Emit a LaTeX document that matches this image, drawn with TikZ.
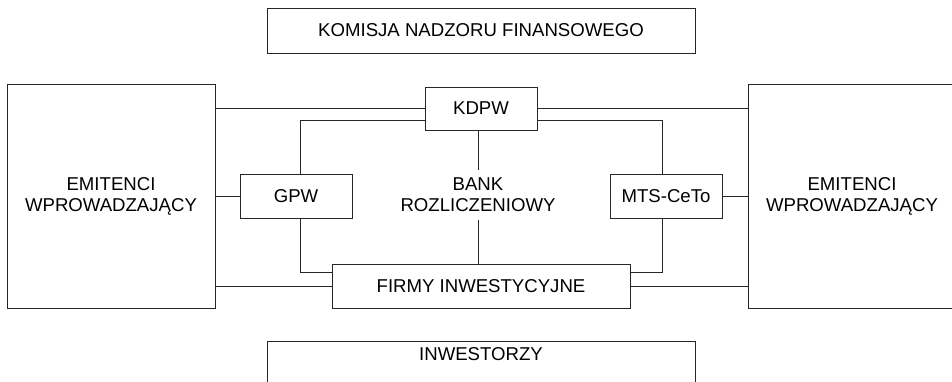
\documentclass[tikz,border=0pt]{standalone}
\usepackage{fontspec}
\setmainfont{Liberation Sans}
\begin{document}
\begin{tikzpicture}[x=1pt,y=-1pt,
  box/.style={draw=black!85,line width=0.9pt,rectangle,inner sep=0pt,align=center},
  conn/.style={draw=black!85,line width=0.9pt},
  font=\fontsize{18.6}{21}\selectfont]
\useasboundingbox (0,0) rectangle (952,381);
\clip (0,0) rectangle (952,381);
\node[box,minimum width=428,minimum height=45] (knf) at (481,30.5) {KOMISJA NADZORU FINANSOWEGO};
\node[box,minimum width=208,minimum height=224] (ewl) at (111,196) {EMITENCI\\WPROWADZAJĄCY};
\node[box,minimum width=208,minimum height=224] (ewr) at (852,196) {EMITENCI\\WPROWADZAJĄCY};
\node[box,minimum width=112,minimum height=43] (kdpw) at (481,108.5) {KDPW};
\node[box,minimum width=112,minimum height=44] (gpw) at (296,196) {GPW};
\node[box,minimum width=112,minimum height=44] (mts) at (666,196) {MTS-CeTo};
\node[box,minimum width=298,minimum height=44] (firmy) at (481,286) {FIRMY INWESTYCYJNE};
\node[align=center,inner sep=0pt,minimum height=50] (bank) at (478,195) {BANK\\ROZLICZENIOWY};
\node[box,minimum width=428,minimum height=70] (inw) at (481,376) {};
\node[inner sep=0pt] (inwt) at (481,354) {INWESTORZY};
% connectors
\draw[conn] (kdpw.west -| ewl.east) -- (kdpw.west);
\draw[conn] (kdpw.east) -- (kdpw.east -| ewr.west);
\draw[conn] (kdpw.west |- 0,120) -| (gpw.north -| 300,0);
\draw[conn] (kdpw.east |- 0,120) -| (mts.north -| 662,0);
\draw[conn] (gpw.west) -- (gpw.west -| ewl.east);
\draw[conn] (mts.east) -- (mts.east -| ewr.west);
\draw[conn] (gpw.south -| 300,0) |- (firmy.west |- 0,272);
\draw[conn] (mts.south -| 662,0) |- (firmy.east |- 0,272);
\draw[conn] (firmy.west -| ewl.east) -- (firmy.west);
\draw[conn] (firmy.east) -- (firmy.east -| ewr.west);
\draw[conn] (bank.north |- kdpw.south) -- (bank.north);
\draw[conn] (bank.south) -- (bank.south |- firmy.north);
\end{tikzpicture}
\end{document}
